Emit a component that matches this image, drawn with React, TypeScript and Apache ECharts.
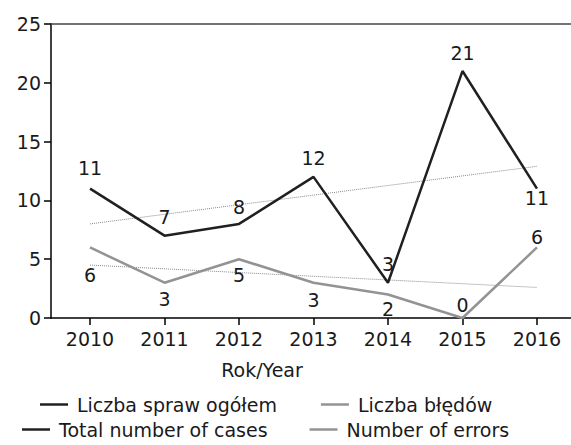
import React, { useEffect, useRef } from "react";
import * as echarts from "echarts";

const years = [2010, 2011, 2012, 2013, 2014, 2015, 2016];
const totalCases = [11, 7, 8, 12, 3, 21, 11];
const errors = [6, 3, 5, 3, 2, 0, 6];
// trend line end values (at 2010 and 2016)
const casesTrend = [8.0, 12.9];
const errorsTrend = [4.5, 2.6];

// label placement (style only)
const casesLabelPos = ["top", "top", "top", "top", "top", "top", "bottom"];
const casesLabelDist = [11, 9, 7, 9, 9, 9, 0];
const errorsLabelPos = ["bottom", "bottom", "bottom", "bottom", "bottom", "top", "top"];
const errorsLabelDist = [18, 7, 6, 8, 5, 4, 1];

const FONT = "DejaVu Sans";
const FS = 19;
const DARK = "#231f20";
const GRAY = "#939393";

export default function App() {
  const ref = useRef<HTMLDivElement>(null);
  useEffect(() => {
    if (!ref.current) return;
    const chart = echarts.init(ref.current, undefined, { renderer: "svg" });
    const xMin = 2009.476;
    const xMax = 2016.457;
    const labelFont = { fontFamily: FONT, fontSize: FS, color: "#1a1a1a" };
    const legendItem = (name: string, color: string) => ({
      name,
      itemStyle: { color, opacity: 1 },
    });
    chart.setOption({
      animation: false,
      backgroundColor: "#ffffff",
      textStyle: { fontFamily: FONT },
      grid: { left: 51, right: 0, top: 24, bottom: 127, containLabel: false },
      xAxis: [
        {
          type: "value",
          min: xMin,
          max: xMax,
          splitLine: { show: false },
          axisLine: { show: true, lineStyle: { color: "#000", width: 1.5 } },
          axisTick: {
            show: true,
            customValues: years,
            length: 7,
            lineStyle: { color: "#000", width: 1.5 },
          },
          axisLabel: {
            customValues: years,
            formatter: (v: number) => String(Math.round(v)),
            margin: 11,
            ...labelFont,
          },
        },
        {
          type: "value",
          position: "top",
          min: xMin,
          max: xMax,
          splitLine: { show: false },
          axisLine: { show: true, lineStyle: { color: "#444", width: 1.5 } },
          axisTick: { show: false },
          axisLabel: { show: false },
        },
      ],
      yAxis: {
        type: "value",
        min: 0,
        max: 25,
        interval: 5,
        splitLine: { show: false },
        axisLine: { show: true, lineStyle: { color: "#000", width: 1.5 } },
        axisTick: { show: true, length: 7, lineStyle: { color: "#000", width: 1.5 } },
        axisLabel: { margin: 10, ...labelFont },
      },
      legend: [
        {
          data: [legendItem("Liczba spraw ogółem", DARK), legendItem("Liczba błędów", GRAY)],
          left: 35,
          top: 390,
          icon: "rect",
          itemWidth: 28,
          itemHeight: 2.5,
          itemGap: 44,
          textStyle: { ...labelFont, padding: [0, 0, 0, 4] },
        },
        {
          data: [legendItem("Total number of cases", DARK), legendItem("Number of errors", GRAY)],
          left: 17,
          top: 415,
          icon: "rect",
          itemWidth: 28,
          itemHeight: 2.5,
          itemGap: 42,
          textStyle: { ...labelFont, padding: [0, 0, 0, 4] },
        },
      ],
      graphic: [
        {
          type: "text",
          x: 262,
          y: 370,
          style: {
            text: "Rok/Year",
            fontFamily: FONT,
            fontSize: FS,
            fill: "#1a1a1a",
            align: "center",
            verticalAlign: "middle",
          },
        },
      ],
      series: [
        {
          name: "Trend cases",
          type: "line",
          data: [
            [years[0], casesTrend[0]],
            [years[years.length - 1], casesTrend[1]],
          ],
          symbol: "none",
          lineStyle: { color: "#8a8a8a", width: 1, type: "dotted" },
          z: 1,
        },
        {
          name: "Trend errors",
          type: "line",
          data: [
            [years[0], errorsTrend[0]],
            [years[years.length - 1], errorsTrend[1]],
          ],
          symbol: "none",
          lineStyle: { color: "#8a8a8a", width: 1, type: "dotted" },
          z: 1,
        },
        {
          name: "Liczba spraw ogółem",
          type: "line",
          color: DARK,
          data: years.map((y, i) => ({
            value: [y, totalCases[i]],
            label: { position: casesLabelPos[i], distance: casesLabelDist[i] },
          })),
          symbol: "circle",
          symbolSize: 0,
          showSymbol: true,
          lineStyle: { color: DARK, width: 2.5 },
          label: { show: true, formatter: (p: any) => String(p.value[1]), ...labelFont },
          z: 3,
        },
        {
          name: "Liczba błędów",
          type: "line",
          color: GRAY,
          data: years.map((y, i) => ({
            value: [y, errors[i]],
            label: { position: errorsLabelPos[i], distance: errorsLabelDist[i] },
          })),
          symbol: "circle",
          symbolSize: 0,
          showSymbol: true,
          lineStyle: { color: GRAY, width: 2.5 },
          label: { show: true, formatter: (p: any) => String(p.value[1]), ...labelFont },
          z: 2,
        },
        { name: "Total number of cases", type: "line", color: DARK, data: [], symbol: "none" },
        { name: "Number of errors", type: "line", color: GRAY, data: [], symbol: "none" },
      ],
    });
    return () => chart.dispose();
  }, []);
  return <div ref={ref} style={{ width: 571, height: 445, position: "absolute", left: 0, top: 0 }} />;
}
